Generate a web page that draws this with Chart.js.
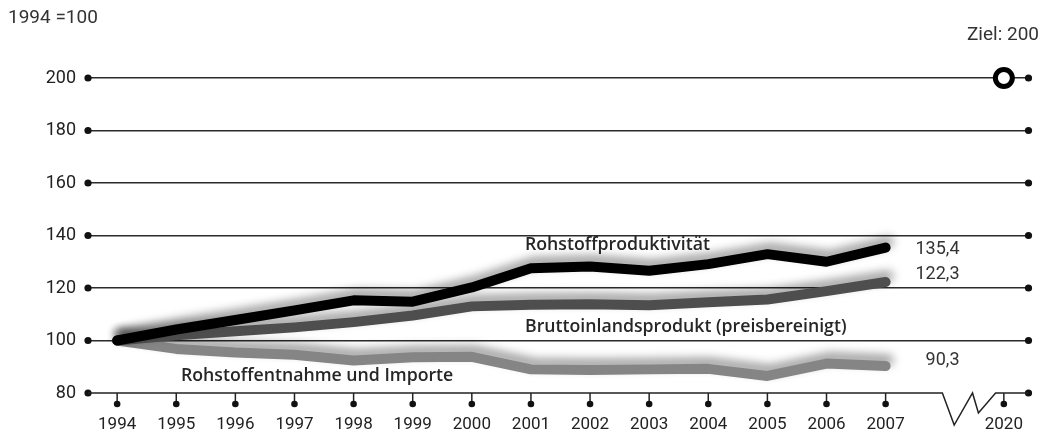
<!DOCTYPE html>
<html lang="de">
<head>
<meta charset="UTF-8">
<title>Rohstoffproduktivität</title>
<script src="https://cdn.jsdelivr.net/npm/chart.js"></script>
<style>
    body { margin: 0; background: #fff; }
    #wrap { width: 1042px; height: 430px; }
</style>
</head>
<body>
<div id="wrap"><canvas id="chart" width="1042" height="430"></canvas></div>
<script>
    // Daten (1994 = 100)
    const years = [1994, 1995, 1996, 1997, 1998, 1999, 2000, 2001, 2002, 2003, 2004, 2005, 2006, 2007];
    const produktivitaet = [100, 104.2, 107.8, 111.5, 115.3, 114.8, 120.2, 127.5, 128.2, 126.6, 129.1, 132.9, 130.0, 135.4];
    const bip = [100, 102.0, 103.5, 105.0, 107.0, 109.5, 113.0, 113.6, 113.8, 113.4, 114.6, 115.6, 118.8, 122.3];
    const entnahme = [100, 96.8, 95.4, 94.6, 92.4, 93.6, 93.8, 89.0, 88.8, 89.0, 89.2, 86.5, 91.2, 90.3];
    const zielJahr = 2020;
    const zielWert = 200;
    const yTicks = [80, 100, 120, 140, 160, 180, 200];
    const endLabels = ['135,4', '122,3', '90,3'];

    // achsenbruch: 2020 wird hinter 2007 gestaucht dargestellt
    const zielPos = 2009.0;
    const xPos = yr => (yr > 2007 ? zielPos : yr);
    const xTickPos = years.concat([zielPos]);
    const xTickText = years.map(String).concat([String(zielJahr)]);

    // beschriftungen in datenkoordinaten
    const seriesLabels = [
        { text: 'Rohstoffproduktivität', x: 2000.9, y: 136.4 },
        { text: 'Bruttoinlandsprodukt (preisbereinigt)', x: 2000.9, y: 105.1 },
        { text: 'Rohstoffentnahme und Importe', x: 1995.08, y: 86.5 }
    ];
    const endLabelPos = [134.8, 125.3, 92.2];

    function dot(ctx, x, y, r) {
        ctx.beginPath();
        ctx.arc(x, y, r, 0, Math.PI * 2);
        ctx.fill();
    }

    const glow = {
        id: 'glow',
        beforeDatasetDraw(chart, args) {
            if (args.index > 2) return;
            const ctx = chart.ctx;
            ctx.save();
            ctx.shadowColor = 'rgba(0,0,0,0.4)';
            ctx.shadowBlur = 10;
            ctx.shadowOffsetX = 3;
            ctx.shadowOffsetY = -6;
        },
        afterDatasetDraw(chart, args) {
            if (args.index > 2) return;
            chart.ctx.restore();
        }
    };

    const decor = {
        id: 'decor',
        afterDraw(chart) {
            const { ctx, chartArea: a, scales: { x, y } } = chart;
            ctx.save();
            ctx.fillStyle = '#111';
            ctx.strokeStyle = '#222';

            // punkte an den enden der gitterlinien
            yTicks.forEach(v => {
                const py = y.getPixelForValue(v);
                dot(ctx, a.left, py, 3.6);
                dot(ctx, a.right, py, 3.6);
            });

            // x-achse mit bruch
            const yb = y.getPixelForValue(80);
            const p07 = x.getPixelForValue(2007);
            const step = p07 - x.getPixelForValue(2006);
            ctx.lineWidth = 1.5;
            ctx.beginPath();
            ctx.moveTo(a.left, yb);
            ctx.lineTo(p07 + 0.96 * step, yb);
            ctx.lineTo(p07 + 1.16 * step, yb + 32);
            ctx.lineTo(p07 + 1.47 * step, yb);
            ctx.lineTo(p07 + 1.57 * step, yb + 20);
            ctx.lineTo(p07 + 1.86 * step, yb);
            ctx.lineTo(a.right, yb);
            ctx.stroke();

            // tick-striche mit punkt
            xTickPos.forEach(v => {
                const px = x.getPixelForValue(v);
                ctx.beginPath();
                ctx.moveTo(px, yb);
                ctx.lineTo(px, yb + 10);
                ctx.stroke();
                dot(ctx, px, yb + 11, 3.3);
            });

            // serienbeschriftung
            ctx.fillStyle = '#262626';
            ctx.textBaseline = 'middle';
            ctx.textAlign = 'left';
            ctx.font = '600 17.7px "Open Sans"';
            seriesLabels.forEach(l => {
                ctx.fillText(l.text, x.getPixelForValue(l.x), y.getPixelForValue(l.y));
            });

            // endwerte
            ctx.font = '18px Roboto';
            ctx.fillStyle = '#333';
            ctx.textAlign = 'right';
            endLabels.forEach((t, i) => {
                ctx.fillText(t, x.getPixelForValue(2008.25), y.getPixelForValue(endLabelPos[i]));
            });

            // kopfzeilen
            ctx.font = '19px Roboto';
            ctx.fillText('Ziel: ' + zielWert, 1039, 35);
            ctx.textAlign = 'left';
            ctx.fillText('1994 =100', 8, 18);
            ctx.restore();
        }
    };

    const lineStyle = {
        borderWidth: 10,
        borderCapStyle: 'round',
        borderJoinStyle: 'round',
        pointRadius: 0,
        tension: 0,
        fill: false
    };

    new Chart(document.getElementById('chart'), {
        type: 'line',
        data: {
            datasets: [
                Object.assign({
                    label: 'Rohstoffproduktivität',
                    data: years.map((yr, i) => ({ x: yr, y: produktivitaet[i] })),
                    borderColor: '#000',
                    order: 1
                }, lineStyle),
                Object.assign({
                    label: 'Bruttoinlandsprodukt (preisbereinigt)',
                    data: years.map((yr, i) => ({ x: yr, y: bip[i] })),
                    borderColor: '#4e4e4e',
                    order: 2
                }, lineStyle),
                Object.assign({
                    label: 'Rohstoffentnahme und Importe',
                    data: years.map((yr, i) => ({ x: yr, y: entnahme[i] })),
                    borderColor: '#858585',
                    order: 3
                }, lineStyle),
                {
                    label: 'Ziel',
                    data: [{ x: xPos(zielJahr), y: zielWert }],
                    showLine: false,
                    pointRadius: 8.5,
                    pointBorderWidth: 5,
                    pointBorderColor: '#000',
                    pointBackgroundColor: '#fff',
                    clip: false,
                    order: 0
                }
            ]
        },
        options: {
            responsive: false,
            animation: false,
            layout: { padding: { top: 78, left: 8, right: 9, bottom: 0 } },
            plugins: { legend: { display: false }, tooltip: { enabled: false } },
            scales: {
                x: {
                    type: 'linear',
                    min: 1993.507,
                    max: 2009.417,
                    afterBuildTicks: s => { s.ticks = xTickPos.map(v => ({ value: v })); },
                    afterFit: s => { s.height = 37; },
                    grid: { display: false },
                    border: { display: false },
                    ticks: {
                        autoSkip: false,
                        maxRotation: 0,
                        padding: 14,
                        color: '#222',
                        font: { family: 'Roboto', size: 17 },
                        callback: (v, i) => xTickText[i]
                    }
                },
                y: {
                    min: 80,
                    max: 200,
                    afterBuildTicks: s => { s.ticks = yTicks.map(v => ({ value: v })); },
                    afterFit: s => { s.width = 80; },
                    border: { display: false },
                    grid: {
                        drawTicks: false,
                        lineWidth: 1.5,
                        color: c => (c.tick && c.tick.value === 80 ? 'rgba(0,0,0,0)' : '#2b2b2b')
                    },
                    ticks: {
                        padding: 12,
                        color: '#222',
                        font: { family: 'Roboto', size: 18 }
                    }
                }
            }
        },
        plugins: [glow, decor]
    });
</script>
</body>
</html>
